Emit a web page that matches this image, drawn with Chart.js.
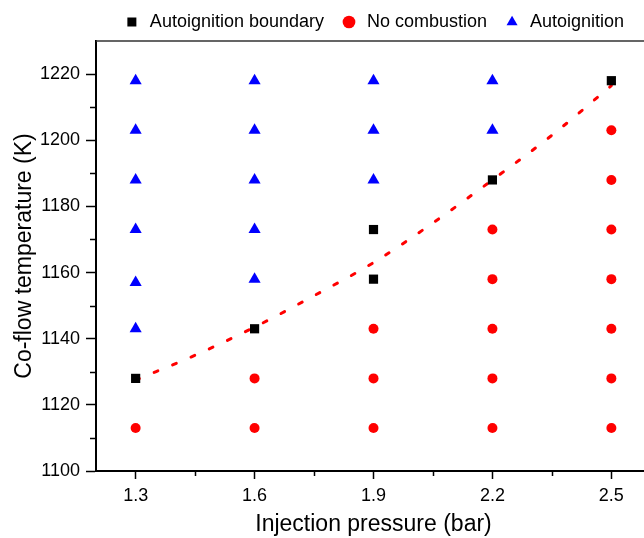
<!DOCTYPE html>
<html>
<head>
<meta charset="utf-8">
<script src="https://cdn.jsdelivr.net/npm/chart.js@4"></script>
<style>
  html, body { margin: 0; padding: 0; background: #fff; overflow: hidden; }
  #wrap { width: 644px; height: 538px; overflow: hidden; }
</style>
</head>
<body>
<div id="wrap"><canvas id="chart" width="660" height="538"></canvas></div>
<script>
// Autoignition map: injection pressure vs co-flow temperature

// Tick values
const xMajor = [1.3, 1.6, 1.9, 2.2, 2.5];
const xMinor = [1.45, 1.75, 2.05, 2.35];
const yMajor = [1100, 1120, 1140, 1160, 1180, 1200, 1220];
const yMinor = [1110, 1130, 1150, 1170, 1190, 1210];

// Autoignition boundary (squares)
const boundaryP = [1.3, 1.6, 1.9, 1.9, 2.2, 2.5];
const boundaryT = [1128, 1143, 1158, 1173, 1188, 1218];

// No combustion (circles)
const noCombP = [1.3, 1.6, 1.6, 1.9, 1.9, 1.9, 2.2, 2.2, 2.2, 2.2, 2.2, 2.5, 2.5, 2.5, 2.5, 2.5, 2.5, 2.5];
const noCombT = [1113, 1113, 1128, 1113, 1128, 1143, 1113, 1128, 1143, 1158, 1173, 1113, 1128, 1143, 1158, 1173, 1188, 1203];

// Autoignition (triangles)
const autoP = [1.3, 1.3, 1.3, 1.3, 1.3, 1.3, 1.6, 1.6, 1.6, 1.6, 1.6, 1.9, 1.9, 1.9, 2.2, 2.2];
const autoT = [1143, 1157, 1173, 1188, 1203, 1218, 1158, 1173, 1188, 1203, 1218, 1188, 1203, 1218, 1203, 1218];

// Boundary fit curve (dotted)
const fitP = [1.3, 1.45, 1.6, 1.75, 1.9, 2.05, 2.2, 2.35, 2.5];
const fitT = [1127.5, 1135, 1143.5, 1153, 1163, 1175, 1188, 1201.5, 1216.5];

const toPoints = (xs, ys) => xs.map((x, i) => ({ x: x, y: ys[i] }));

const FONT = "'Liberation Sans', Arial, sans-serif";

// Minor ticks and the top/right frame lines
const framePlugin = {
    id: 'framePlugin',
    afterDraw(chart) {
        const { ctx, chartArea, scales } = chart;
        const x = scales.x, y = scales.y;
        ctx.save();
        ctx.strokeStyle = '#000';
        ctx.lineWidth = 1.5;
        ctx.beginPath();
        xMinor.forEach(v => {
            const px = Math.round(x.getPixelForValue(v)) + 0.5;
            ctx.moveTo(px, chartArea.bottom);
            ctx.lineTo(px, chartArea.bottom + 5);
        });
        yMinor.forEach(v => {
            const py = Math.round(y.getPixelForValue(v)) + 0.5;
            ctx.moveTo(chartArea.left, py);
            ctx.lineTo(chartArea.left - 6, py);
        });
        ctx.stroke();
        ctx.strokeStyle = '#333';
        ctx.beginPath();
        ctx.moveTo(chartArea.left, chartArea.top);
        ctx.lineTo(chartArea.right, chartArea.top);
        ctx.lineTo(chartArea.right, chartArea.bottom);
        ctx.stroke();
        ctx.restore();
    }
};

const ctx = document.getElementById('chart').getContext('2d');
new Chart(ctx, {
    type: 'scatter',
    data: {
        datasets: [
            {
                label: 'Autoignition boundary',
                data: toPoints(boundaryP, boundaryT),
                pointStyle: 'rect',
                pointRadius: 6.5,
                backgroundColor: '#000000',
                borderColor: '#000000',
                borderWidth: 0,
                order: 1
            },
            {
                label: 'No combustion',
                data: toPoints(noCombP, noCombT),
                pointStyle: 'circle',
                pointRadius: 5,
                backgroundColor: '#ff0000',
                borderColor: '#ff0000',
                borderWidth: 0,
                order: 2
            },
            {
                label: 'Autoignition',
                data: toPoints(autoP, autoT),
                pointStyle: 'triangle',
                pointRadius: 7,
                backgroundColor: '#0000ff',
                borderColor: '#0000ff',
                borderWidth: 0,
                order: 3
            },
            {
                label: 'fit',
                type: 'line',
                data: toPoints(fitP, fitT),
                showLine: true,
                pointRadius: 0,
                borderColor: '#ff0000',
                borderWidth: 3,
                borderDash: [4, 16],
                borderCapStyle: 'round',
                cubicInterpolationMode: 'monotone',
                fill: false,
                order: 4
            }
        ]
    },
    options: {
        responsive: false,
        animation: false,
        layout: { padding: { top: -3, right: 9, bottom: 0, left: 11 } },
        plugins: {
            tooltip: { enabled: false },
            legend: {
                position: 'top',
                fullSize: false,
                labels: {
                    filter: item => item.text !== 'fit',
                    usePointStyle: true,
                    boxWidth: 18,
                    boxHeight: 9,
                    padding: 16,
                    color: '#000',
                    font: { family: FONT, size: 18 }
                }
            }
        },
        scales: {
            x: {
                type: 'linear',
                min: 1.2,
                max: 2.6,
                afterBuildTicks: s => { s.ticks = xMajor.map(v => ({ value: v })); },
                afterFit: s => { s.height = 67; },
                grid: { display: true, drawOnChartArea: false, tickLength: 8, tickWidth: 1.5, tickColor: '#000' },
                border: { display: true, color: '#000', width: 2 },
                ticks: {
                    color: '#000',
                    padding: 6,
                    font: { family: FONT, size: 18 },
                    callback: v => String(v)
                },
                title: {
                    display: true,
                    text: 'Injection pressure (bar)',
                    color: '#000',
                    font: { family: FONT, size: 23 },
                    padding: { top: 9, bottom: 0 }
                }
            },
            y: {
                type: 'linear',
                min: 1100,
                max: 1230,
                afterBuildTicks: s => { s.ticks = yMajor.map(v => ({ value: v })); },
                afterFit: s => { s.width = 85; },
                grid: { display: true, drawOnChartArea: false, tickLength: 10, tickWidth: 1.5, tickColor: '#000' },
                border: { display: true, color: '#000', width: 2 },
                ticks: {
                    color: '#000',
                    padding: 6,
                    font: { family: FONT, size: 18 },
                    callback: v => String(v)
                },
                title: {
                    display: true,
                    text: 'Co-flow temperature (K)',
                    color: '#000',
                    font: { family: FONT, size: 23 },
                    padding: { top: 0, bottom: 4 }
                }
            }
        }
    },
    plugins: [framePlugin]
});
</script>
</body>
</html>
